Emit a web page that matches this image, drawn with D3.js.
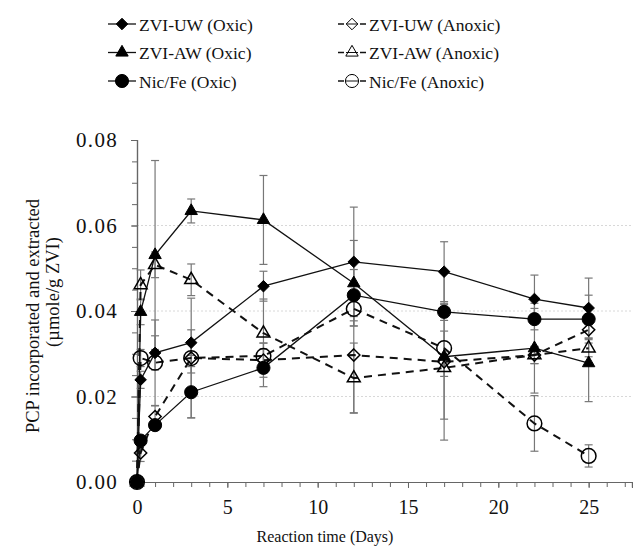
<!DOCTYPE html>
<html>
<head>
<meta charset="utf-8">
<script src="https://cdn.jsdelivr.net/npm/d3@7"></script>
<style>
  body { margin: 0; background: #fff; }
</style>
</head>
<body>
<svg id="chart" width="633" height="547"></svg>
<script>
// sampling days
const days = [0, 0.2, 1, 3, 7, 12, 17, 22, 25];

// PCP incorporated and extracted (umole/g ZVI)
const uwOxic     = [0, 0.0239, 0.0302, 0.0326, 0.0458, 0.0515, 0.0492, 0.0428, 0.0407];
const uwOxicErr  = [0, 0.002, 0.004, 0.003, 0.0035, 0.0128, 0.007, 0.0056, 0.007];
const awOxic     = [0, 0.0398, 0.0531, 0.0634, 0.0613, 0.0465, 0.0293, 0.0313, 0.0278];
const awOxicErr  = [0, 0.003, 0.0221, 0.0028, 0.0104, 0.010, 0.0195, 0.0105, 0.009];
const nfOxic     = [0, 0.0097, 0.0133, 0.021, 0.0267, 0.0437, 0.0398, 0.0381, 0.0381];
const nfOxicErr  = [0, 0.001, 0.0012, 0.006, 0.0044, 0.006, 0.002, 0.0025, 0.0056];
const uwAnoxic    = [0, 0.0068, 0.0153, 0.029, 0.0285, 0.0297, 0.0281, 0.0297, 0.0356];
const uwAnoxicErr = [0, 0.002, 0.0025, 0.0035, 0.004, 0.0135, 0.0134, 0.002, 0.002];
const awAnoxic    = [0, 0.0461, 0.0508, 0.0473, 0.0348, 0.0243, 0.0267, 0.0297, 0.0313];
const awAnoxicErr = [0, 0.0035, 0.003, 0.0037, 0.008, 0.0082, 0.002, 0.002, 0.002];
const nfAnoxic    = [0, 0.029, 0.0279, 0.029, 0.0295, 0.0405, 0.0313, 0.0137, 0.0061];
const nfAnoxicErr = [0, 0.002, 0.01, 0.014, 0.003, 0.004, 0.004, 0.0065, 0.0026];

const seriesNames = ['ZVI-UW (Oxic)', 'ZVI-AW (Oxic)', 'Nic/Fe (Oxic)',
                     'ZVI-UW (Anoxic)', 'ZVI-AW (Anoxic)', 'Nic/Fe (Anoxic)'];
const yTicks = [0, 0.02, 0.04, 0.06, 0.08];
const xTicks = [0, 5, 10, 15, 20, 25];

const series = [
  { name: seriesNames[0], vals: uwOxic,   err: uwOxicErr,   shape: 'diamond',  open: false },
  { name: seriesNames[1], vals: awOxic,   err: awOxicErr,   shape: 'triangle', open: false },
  { name: seriesNames[2], vals: nfOxic,   err: nfOxicErr,   shape: 'circle',   open: false },
  { name: seriesNames[3], vals: uwAnoxic, err: uwAnoxicErr, shape: 'diamond',  open: true },
  { name: seriesNames[4], vals: awAnoxic, err: awAnoxicErr, shape: 'triangle', open: true },
  { name: seriesNames[5], vals: nfAnoxic, err: nfAnoxicErr, shape: 'circle',   open: true }
];

const FONT = '"Liberation Serif"';
const svg = d3.select('#chart');
const mLeft = 137, mRight = 632, mTop = 140, mBottom = 482;

const x = d3.scaleLinear().domain([0, 27.4]).range([mLeft, mRight]);
const y = d3.scaleLinear().domain([0, 0.08]).range([mBottom, mTop]);

// grid
svg.append('g')
  .selectAll('line')
  .data(yTicks.filter(d => d > 0 && d < 0.08))
  .enter().append('line')
  .attr('x1', mLeft).attr('x2', mRight)
  .attr('y1', d => y(d)).attr('y2', d => y(d))
  .attr('stroke', '#d8d8d8').attr('stroke-dasharray', '2,2').attr('stroke-width', 1);

// axes
const yAx = svg.append('g').attr('transform', `translate(${mLeft},0)`)
  .call(d3.axisLeft(y).tickValues(yTicks).tickFormat(d3.format('.2f')).tickSize(6).tickPadding(13));
svg.append('g').attr('transform', `translate(${mLeft},0)`)
  .call(d3.axisLeft(y).tickValues(d3.range(0, 0.0801, 0.005)).tickFormat('').tickSize(5));

const xAx = svg.append('g').attr('transform', `translate(0,${mBottom})`)
  .call(d3.axisBottom(x).tickValues(xTicks).tickFormat(d3.format('d')).tickSize(6).tickPadding(12));
svg.append('g').attr('transform', `translate(0,${mBottom})`)
  .call(d3.axisBottom(x).tickValues(d3.range(0, 28, 1)).tickFormat('').tickSize(5));

svg.selectAll('.domain').attr('stroke', '#666').attr('stroke-width', 1.2);
svg.selectAll('.tick line').attr('stroke', '#666');
yAx.selectAll('.tick text').style('font-family', FONT).style('font-size', '21px')
  .style('letter-spacing', '1.3px').attr('fill', '#111');
xAx.selectAll('.tick text').style('font-family', FONT).style('font-size', '20px').attr('fill', '#111');

// axis titles
svg.append('text').attr('x', 325).attr('y', 542)
  .attr('text-anchor', 'middle').style('font-family', FONT).style('font-size', '16px')
  .attr('fill', '#111').text('Reaction time (Days)');
svg.append('text').attr('transform', 'translate(39,316) rotate(-90)')
  .attr('text-anchor', 'middle').style('font-family', FONT).style('font-size', '18.5px')
  .attr('fill', '#111').text('PCP incorporated and extracted');
svg.append('text').attr('transform', 'translate(59,292) rotate(-90)')
  .attr('text-anchor', 'middle').style('font-family', FONT).style('font-size', '18.5px')
  .attr('fill', '#111').text('(\u00b5mole/g ZVI)');

function symbolFor(shape, open) {
  if (shape === 'diamond') return d3.symbol().type(d3.symbolDiamond2).size(open ? 95 : 85)();
  if (shape === 'triangle') return d3.symbol().type(d3.symbolTriangle2).size(open ? 120 : 110)();
  return d3.symbol().type(d3.symbolCircle).size(open ? 170 : 135)();
}

// error bars
series.forEach(s => {
  const g = svg.append('g');
  days.forEach((d, i) => {
    if (!s.err[i]) return;
    const cx = x(d), y1 = y(s.vals[i] + s.err[i]), y2 = y(s.vals[i] - s.err[i]);
    g.append('line').attr('x1', cx).attr('x2', cx).attr('y1', y1).attr('y2', y2)
      .attr('stroke', '#777').attr('stroke-width', 1.2);
    [y1, y2].forEach(yy => {
      g.append('line').attr('x1', cx - 4).attr('x2', cx + 4).attr('y1', yy).attr('y2', yy)
        .attr('stroke', '#777').attr('stroke-width', 1.2);
    });
  });
});

// lines
const line = d3.line().x((d, i) => x(days[i])).y(d => y(d));
series.forEach(s => {
  svg.append('path').datum(s.vals).attr('d', line).attr('fill', 'none')
    .attr('stroke', '#111')
    .attr('stroke-width', s.open ? 2 : 1.3)
    .attr('stroke-dasharray', s.open ? '8,6' : null);
});

// markers
series.forEach(s => {
  svg.append('g').selectAll('path').data(s.vals).enter().append('path')
    .attr('d', symbolFor(s.shape, s.open))
    .attr('transform', (d, i) => `translate(${x(days[i])},${y(d)})`)
    .attr('fill', s.open ? 'none' : '#000')
    .attr('stroke', '#000').attr('stroke-width', s.open ? 1.5 : 1);
});

// legend
const legend = svg.append('g');
series.forEach((s, i) => {
  const col = i < 3 ? 0 : 1, row = i % 3;
  const lx = col === 0 ? 108 : 338, ly = 24 + row * 28.5;
  const g = legend.append('g').attr('transform', `translate(${lx},${ly})`);
  if (s.open) {
    g.append('line').attr('x1', 0).attr('x2', 6).attr('y1', 0).attr('y2', 0).attr('stroke', '#111').attr('stroke-width', 1.5);
    g.append('line').attr('x1', 22).attr('x2', 28).attr('y1', 0).attr('y2', 0).attr('stroke', '#111').attr('stroke-width', 1.5);
    g.append('line').attr('x1', 8).attr('x2', 20).attr('y1', 0).attr('y2', 0).attr('stroke', '#111').attr('stroke-width', 1);
  } else {
    g.append('line').attr('x1', 0).attr('x2', 28).attr('y1', 0).attr('y2', 0).attr('stroke', '#111').attr('stroke-width', 1.3);
  }
  g.append('path').attr('d', symbolFor(s.shape, false)).attr('transform', 'translate(14,0)')
    .attr('fill', s.open ? 'none' : '#000').attr('stroke', '#000').attr('stroke-width', 1);
  g.append('text').attr('x', 31).attr('y', 6.5).style('font-family', FONT).style('font-size', '17.5px')
    .attr('fill', '#111').text(s.name);
});
</script>
</body>
</html>
